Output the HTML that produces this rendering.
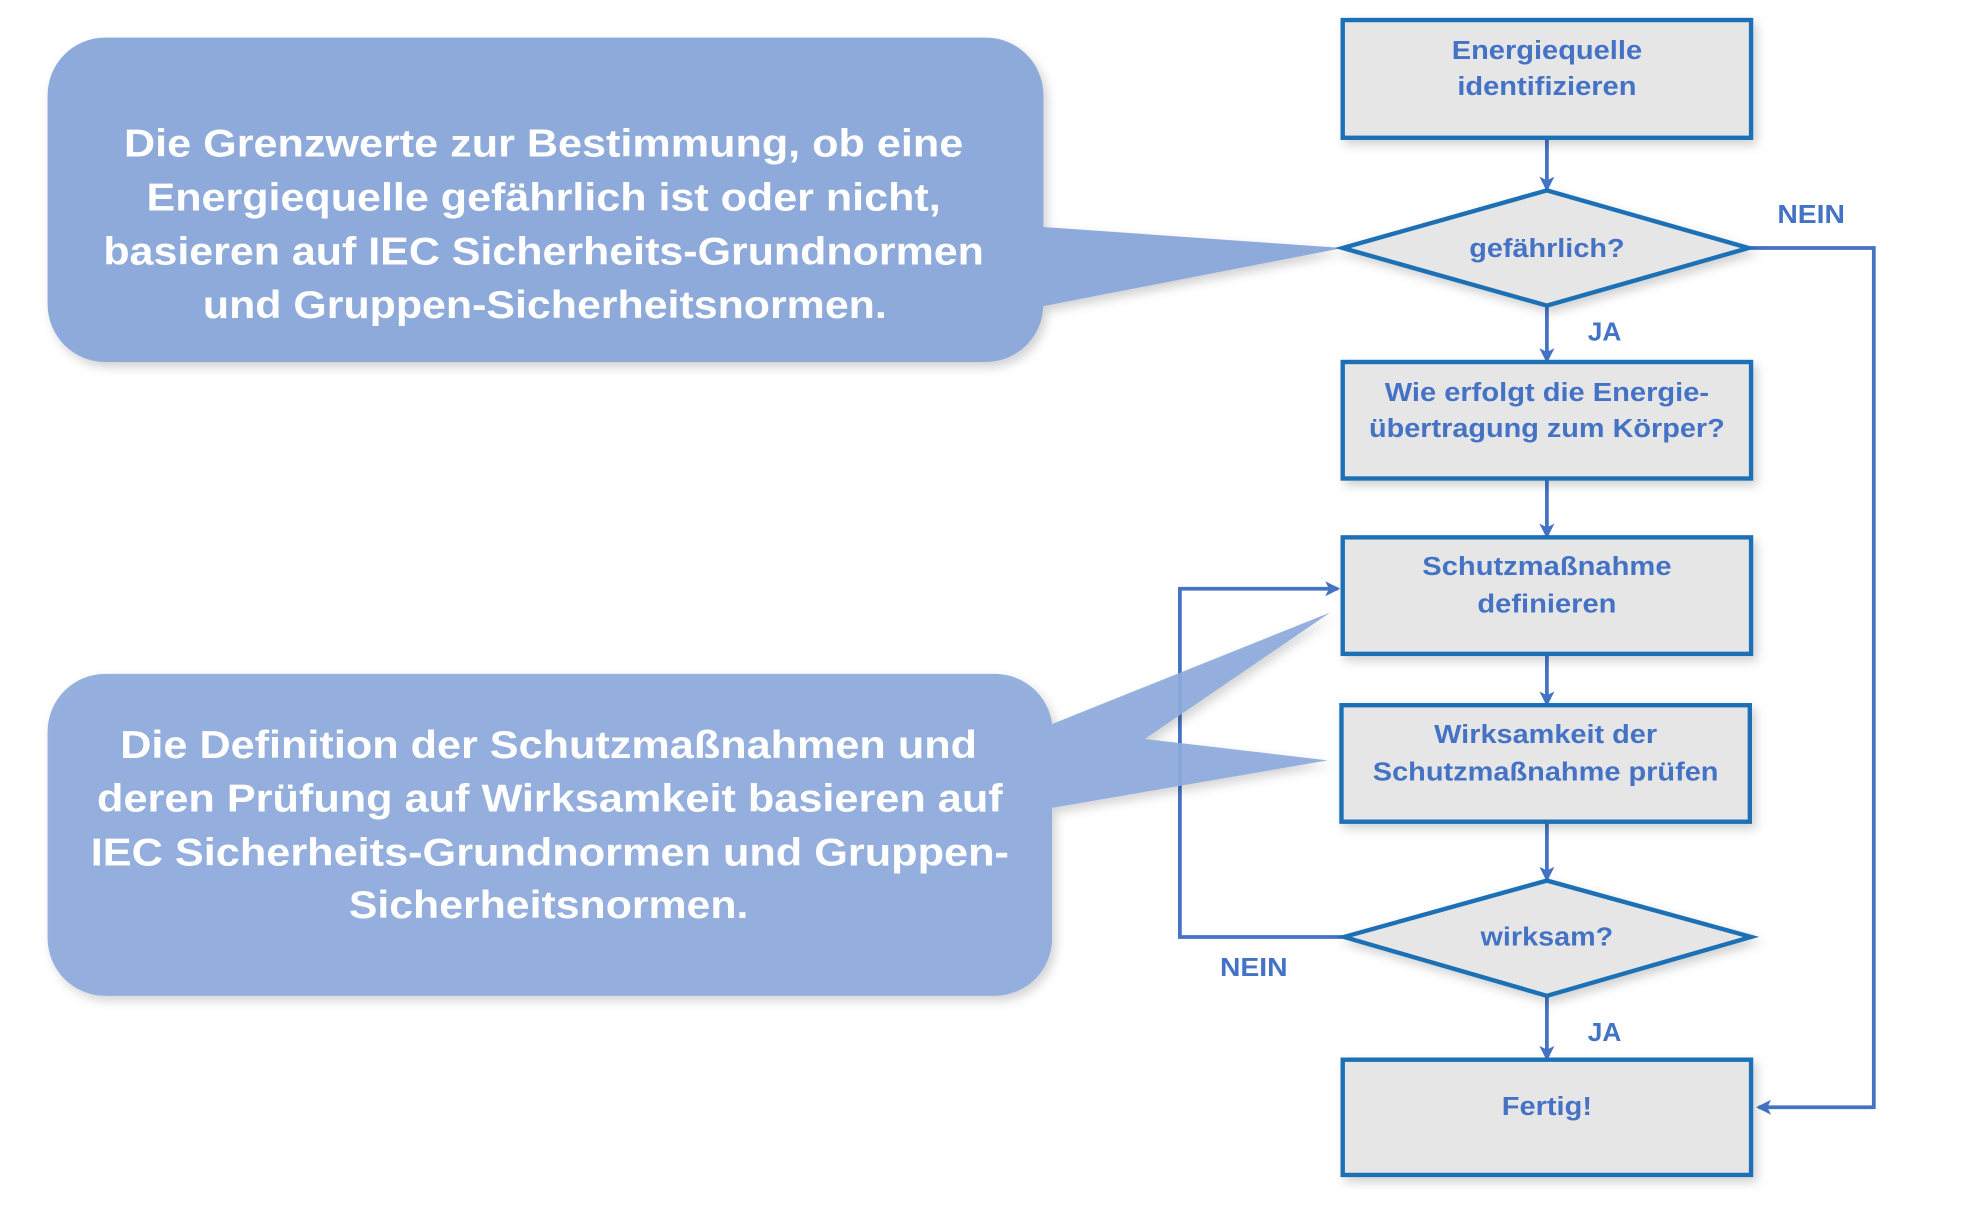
<!DOCTYPE html>
<html><head><meta charset="utf-8"><style>
html,body{margin:0;padding:0;background:#fff;overflow:hidden}
svg{display:block}
.bt{font-family:"Liberation Sans",Arial,sans-serif;font-weight:bold;fill:#fff;font-size:31px;text-anchor:middle}
.nt{font-family:"Liberation Sans",Arial,sans-serif;font-weight:bold;fill:#4472c4;font-size:21px;text-anchor:middle}
.lb{font-family:"Liberation Sans",Arial,sans-serif;font-weight:bold;fill:#4472c4;font-size:21px;text-anchor:middle}
</style></head><body>
<svg width="1964" height="1205" viewBox="0 0 1568 962" preserveAspectRatio="none" xmlns="http://www.w3.org/2000/svg">
<defs>
<filter id="sh" x="-10%" y="-10%" width="130%" height="140%"><feDropShadow dx="3" dy="4" stdDeviation="4" flood-color="#000" flood-opacity="0.18"/></filter>
<marker id="ah" markerWidth="12" markerHeight="12" refX="10" refY="6" orient="auto" markerUnits="userSpaceOnUse"><path d="M0,0 L12,6 L0,12 L3,6 Z" fill="#4472c4"/></marker>
</defs>
<g stroke="#4472c4" stroke-width="3" fill="none">
<line x1="1235" y1="110" x2="1235" y2="151" marker-end="url(#ah)"/>
<line x1="1235" y1="244" x2="1235" y2="288" marker-end="url(#ah)"/>
<line x1="1235" y1="382" x2="1235" y2="428" marker-end="url(#ah)"/>
<line x1="1235" y1="522" x2="1235" y2="562" marker-end="url(#ah)"/>
<line x1="1235" y1="656" x2="1235" y2="702" marker-end="url(#ah)"/>
<line x1="1235" y1="795" x2="1235" y2="845" marker-end="url(#ah)"/>
<polyline points="1396,198 1496,198 1496,884 1404,884" marker-end="url(#ah)"/>
<polyline points="1073,748 942,748 942,470 1068,470" marker-end="url(#ah)"/>
</g>
<g filter="url(#sh)" fill="#8eaadb">
<rect x="38" y="30" width="795" height="259" rx="46"/>
<polygon points="830,181 1072,198 830,245"/>
</g>
<g filter="url(#sh)" fill="#8eaadb" fill-opacity="0.93">
<path d="M84,538 H794 A46,46 0 0 1 840,578 L1062,489 L914,590 L1060,607 L840,645 V749 A46,46 0 0 1 794,795 H84 A46,46 0 0 1 38,749 V584 A46,46 0 0 1 84,538 Z"/>
</g>
<g class="bt">
<text class="bt" x="434" y="125" textLength="670" lengthAdjust="spacingAndGlyphs">Die Grenzwerte zur Bestimmung, ob eine</text>
<text class="bt" x="434" y="168" textLength="634" lengthAdjust="spacingAndGlyphs">Energiequelle gefährlich ist oder nicht,</text>
<text class="bt" x="434" y="211" textLength="703" lengthAdjust="spacingAndGlyphs">basieren auf IEC Sicherheits-Grundnormen</text>
<text class="bt" x="435" y="254" textLength="546" lengthAdjust="spacingAndGlyphs">und Gruppen-Sicherheitsnormen.</text>
<text class="bt" x="438" y="605" textLength="684" lengthAdjust="spacingAndGlyphs">Die Definition der Schutzmaßnahmen und</text>
<text class="bt" x="439" y="648" textLength="723" lengthAdjust="spacingAndGlyphs">deren Prüfung auf Wirksamkeit basieren auf</text>
<text class="bt" x="439" y="691" textLength="733" lengthAdjust="spacingAndGlyphs">IEC Sicherheits-Grundnormen und Gruppen-</text>
<text class="bt" x="438" y="733" textLength="319" lengthAdjust="spacingAndGlyphs">Sicherheitsnormen.</text>
</g>
<g fill="#e7e6e6" stroke="#1f6fb5" stroke-width="3.5" filter="url(#sh)">
<rect x="1072" y="16" width="326" height="94"/>
<polygon points="1072,198 1235,152 1396,198 1235,244"/>
<rect x="1072" y="289" width="326" height="93"/>
<rect x="1072" y="429" width="326" height="93"/>
<rect x="1071" y="563" width="326" height="93"/>
<polygon points="1073,748 1235,703 1398,748 1235,795"/>
<rect x="1072" y="846" width="326" height="92"/>
</g>
<text class="nt" x="1235" y="47" textLength="152" lengthAdjust="spacingAndGlyphs">Energiequelle</text>
<text class="nt" x="1235" y="76" textLength="143" lengthAdjust="spacingAndGlyphs">identifizieren</text>
<text class="nt" x="1235" y="205" textLength="124" lengthAdjust="spacingAndGlyphs">gefährlich?</text>
<text class="nt" x="1235" y="320" textLength="259" lengthAdjust="spacingAndGlyphs">Wie erfolgt die Energie-</text>
<text class="nt" x="1235" y="349" textLength="284" lengthAdjust="spacingAndGlyphs">übertragung zum Körper?</text>
<text class="nt" x="1235" y="459" textLength="199" lengthAdjust="spacingAndGlyphs">Schutzmaßnahme</text>
<text class="nt" x="1235" y="489" textLength="111" lengthAdjust="spacingAndGlyphs">definieren</text>
<text class="nt" x="1234" y="593" textLength="178" lengthAdjust="spacingAndGlyphs">Wirksamkeit der</text>
<text class="nt" x="1234" y="623" textLength="276" lengthAdjust="spacingAndGlyphs">Schutzmaßnahme prüfen</text>
<text class="nt" x="1235" y="755" textLength="106" lengthAdjust="spacingAndGlyphs">wirksam?</text>
<text class="nt" x="1235" y="890" textLength="72" lengthAdjust="spacingAndGlyphs">Fertig!</text>
<text class="lb" x="1446" y="178" textLength="54" lengthAdjust="spacingAndGlyphs">NEIN</text>
<text class="lb" x="1281" y="272">JA</text>
<text class="lb" x="1001" y="779" textLength="54" lengthAdjust="spacingAndGlyphs">NEIN</text>
<text class="lb" x="1281" y="831">JA</text>
</svg>
</body></html>
